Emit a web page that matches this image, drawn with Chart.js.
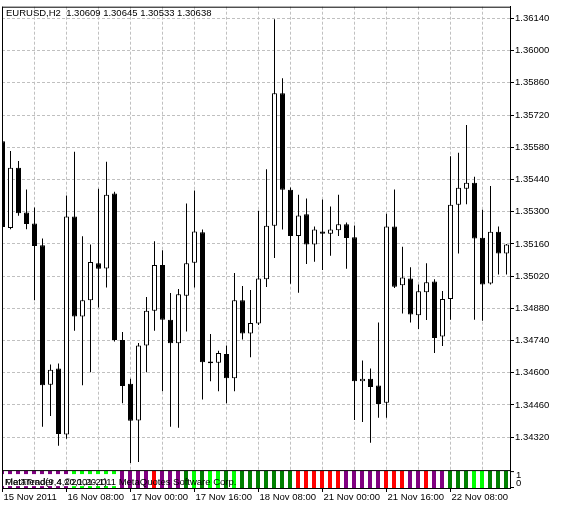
<!DOCTYPE html>
<html>
<head>
<meta charset="utf-8">
<script src="https://cdn.jsdelivr.net/npm/chart.js@4.4.1/dist/chart.umd.min.js"></script>
<style>
  html, body { margin: 0; padding: 0; background: #fff; }
</style>
</head>
<body>
<canvas id="eurusdChart" width="563" height="509"></canvas>
<script>
// EURUSD H2 bars, 15 Nov 2011 16:00 onwards
const timeLabels = ['15 Nov 2011', '16 Nov 08:00', '17 Nov 00:00', '17 Nov 16:00',
                    '18 Nov 08:00', '21 Nov 00:00', '21 Nov 16:00', '22 Nov 08:00'];
const timeTickBars = [0, 8, 16, 24, 32, 40, 48, 56];
const priceTicks = [1.34320, 1.34460, 1.34600, 1.34740, 1.34880, 1.35020, 1.35160,
                    1.35300, 1.35440, 1.35580, 1.35720, 1.35860, 1.36000, 1.36140];

const openPrices = [
  1.35606, 1.35229, 1.35491, 1.35296, 1.35249, 1.35154, 1.34548, 1.34618,
  1.34332, 1.35279, 1.34844, 1.34915, 1.35076, 1.35053, 1.35379, 1.34742,
  1.34552, 1.34392, 1.34718, 1.34869, 1.35068, 1.34830, 1.34728, 1.34935,
  1.35078, 1.35210, 1.34649, 1.34643, 1.34682, 1.34576, 1.34915, 1.34771,
  1.34814, 1.35006, 1.35239, 1.35815, 1.35395, 1.35194, 1.35289, 1.35157,
  1.35214, 1.35204, 1.35219, 1.35245, 1.35189, 1.34563, 1.34574, 1.34545,
  1.34470, 1.35235, 1.34980, 1.35010, 1.34850, 1.34950, 1.34997, 1.34757,
  1.34921, 1.35330, 1.35400, 1.35426, 1.35187, 1.34988, 1.35213, 1.35118
];
const highPrices = [
  1.35610, 1.35564, 1.35520, 1.35396, 1.35318, 1.35183, 1.34636, 1.34640,
  1.35370, 1.35560, 1.35193, 1.35157, 1.35399, 1.35517, 1.35387, 1.34777,
  1.34574, 1.34729, 1.34929, 1.35171, 1.35132, 1.34947, 1.34964, 1.35335,
  1.35392, 1.35222, 1.34768, 1.34696, 1.34718, 1.35033, 1.34977, 1.34960,
  1.35304, 1.35484, 1.36136, 1.35880, 1.35405, 1.35374, 1.35357, 1.35236,
  1.35353, 1.35322, 1.35374, 1.35253, 1.35240, 1.34653, 1.34618, 1.34818,
  1.35291, 1.35396, 1.35148, 1.35058, 1.34984, 1.35076, 1.35006, 1.34955,
  1.35541, 1.35556, 1.35677, 1.35452, 1.35308, 1.35412, 1.35236, 1.35160
];
const lowPrices = [
  1.35220, 1.35224, 1.35282, 1.35224, 1.34915, 1.34365, 1.34412, 1.34283,
  1.34313, 1.34782, 1.34546, 1.34602, 1.34883, 1.34970, 1.34736, 1.34468,
  1.34208, 1.34212, 1.34602, 1.34782, 1.34520, 1.34365, 1.34361, 1.34779,
  1.34970, 1.34484, 1.34563, 1.34520, 1.34468, 1.34520, 1.34744, 1.34667,
  1.34808, 1.34973, 1.35099, 1.35222, 1.34987, 1.34948, 1.35073, 1.35082,
  1.35047, 1.35108, 1.35194, 1.35052, 1.34395, 1.34386, 1.34296, 1.34404,
  1.34404, 1.34968, 1.34857, 1.34818, 1.34790, 1.34829, 1.34686, 1.34716,
  1.34830, 1.35118, 1.35332, 1.34830, 1.34826, 1.34984, 1.35027, 1.35027
];
const closePrices = [
  1.35233, 1.35491, 1.35293, 1.35246, 1.35151, 1.34546, 1.34613, 1.34334,
  1.35279, 1.34844, 1.34915, 1.35081, 1.35052, 1.35373, 1.34742, 1.34542,
  1.34391, 1.34718, 1.34869, 1.35068, 1.34830, 1.34728, 1.34941, 1.35076,
  1.35214, 1.34646, 1.34641, 1.34686, 1.34576, 1.34915, 1.34771, 1.34816,
  1.35010, 1.35239, 1.35815, 1.35395, 1.35194, 1.35283, 1.35157, 1.35223,
  1.35204, 1.35223, 1.35245, 1.35186, 1.34563, 1.34574, 1.34538, 1.34464,
  1.35235, 1.34974, 1.35014, 1.34853, 1.34954, 1.34993, 1.34751, 1.34921,
  1.35330, 1.35404, 1.35426, 1.35183, 1.34984, 1.35213, 1.35118, 1.35157
];
// indicator state per bar: flat / up / rise / down
const trendState = [
  'flat', 'flat', 'flat', 'flat', 'flat', 'flat', 'flat', 'flat',
  'flat', 'up', 'up', 'up', 'up', 'up', 'up', 'flat',
  'flat', 'flat', 'flat', 'down', 'flat', 'flat', 'flat', 'rise',
  'up', 'rise', 'up', 'up', 'rise', 'up', 'rise', 'rise',
  'rise', 'rise', 'rise', 'rise', 'rise', 'down', 'down', 'down',
  'down', 'down', 'down', 'flat', 'flat', 'flat', 'flat', 'flat',
  'down', 'down', 'down', 'flat', 'flat', 'down', 'flat', 'flat',
  'rise', 'rise', 'rise', 'up', 'up', 'rise', 'rise', 'rise'
];

const trendColors = { flat: '#800080', up: '#00ff00', rise: '#008000', down: '#ff0000' };
const FONT_FAMILY = '"Liberation Sans", Arial, sans-serif';
const FONT_SIZE = 9.5;
const barIndex = openPrices.map((_, i) => i);

// frame, vertical grid and the loose texts MT4 puts on the chart
const mtFrame = {
  id: 'mtFrame',
  beforeDatasetsDraw(chart) {
    const { ctx, chartArea: a, scales } = chart;
    const sepY = scales.ySub.getPixelForValue(1) - 0.5;
    ctx.save();
    ctx.strokeStyle = '#c0c0c0';
    ctx.lineWidth = 1;
    ctx.setLineDash([3, 2]);
    for (let k = 4; k < barIndex.length; k += 4) {
      const x = Math.floor(scales.x.getPixelForValue(k)) + 0.5;
      ctx.beginPath();
      ctx.moveTo(x, a.top);
      ctx.lineTo(x, sepY);
      ctx.stroke();
    }
    ctx.restore();
  },
  afterDatasetsDraw(chart) {
    const { ctx, chartArea: a, scales } = chart;
    const sepY = scales.ySub.getPixelForValue(1) - 0.5;
    const subBottom = scales.ySub.getPixelForValue(0);
    ctx.save();
    ctx.strokeStyle = '#000';
    ctx.lineWidth = 1;
    ctx.beginPath();
    ctx.moveTo(a.left + 0.5, a.top);
    ctx.lineTo(a.left + 0.5, a.bottom);
    ctx.moveTo(a.left, a.top + 0.5);
    ctx.lineTo(a.right + 1, a.top + 0.5);
    ctx.moveTo(a.left, sepY);
    ctx.lineTo(a.right + 1, sepY);
    // small scale marks of the indicator window
    ctx.moveTo(a.right, sepY + 1);
    ctx.lineTo(a.right + 4, sepY + 1);
    ctx.moveTo(a.right, subBottom - 0.5);
    ctx.lineTo(a.right + 4, subBottom - 0.5);
    ctx.stroke();

    ctx.font = FONT_SIZE + 'px ' + FONT_FAMILY;
    ctx.fillStyle = '#000';
    ctx.textBaseline = 'alphabetic';
    ctx.fillText('EURUSD,H2  1.30609 1.30645 1.30533 1.30638', 6, 16);

    ctx.fillStyle = '#fff';
    ctx.fillRect(a.left + 1, sepY + 3.5, 115, 12);
    ctx.fillStyle = '#000';
    ctx.fillText('MetaTrader 4 \u00a92001-2011 MetaQuotes Software Corp.', 5, 485);
    ctx.fillText('FlatTrend(9,4,20,1,20,1)', 5, 485);

    ctx.fillText('1', a.right + 6, 477.5);
    ctx.fillText('0', a.right + 6, 485.5);
    ctx.restore();
  }
};

const bodyFill = barIndex.map(i => closePrices[i] >= openPrices[i] ? '#ffffff' : '#000000');

new Chart(document.getElementById('eurusdChart'), {
  type: 'bar',
  data: {
    datasets: [
      {
        label: 'Body',
        data: barIndex.map(i => ({ x: i, y: [openPrices[i], closePrices[i]] })),
        backgroundColor: bodyFill,
        borderColor: '#000000',
        borderWidth: 1,
        borderSkipped: false,
        inflateAmount: 0,
        barThickness: 5,
        grouped: false,
        order: 0,
        xAxisID: 'x',
        yAxisID: 'y'
      },
      {
        label: 'Shadow',
        data: barIndex.map(i => ({ x: i, y: [lowPrices[i], highPrices[i]] })),
        backgroundColor: '#000000',
        borderWidth: 0,
        inflateAmount: 0,
        barThickness: 1,
        grouped: false,
        order: 1,
        xAxisID: 'x',
        yAxisID: 'y'
      },
      {
        label: 'FlatTrend',
        data: barIndex.map(i => ({ x: i, y: [0, 1] })),
        backgroundColor: trendState.map(s => trendColors[s]),
        borderWidth: 0,
        inflateAmount: 0,
        barThickness: 4,
        grouped: false,
        order: 2,
        xAxisID: 'xSub',
        yAxisID: 'ySub'
      }
    ]
  },
  options: {
    responsive: false,
    animation: false,
    events: [],
    layout: { padding: { top: 4, left: 2, right: 0, bottom: 0 } },
    plugins: {
      legend: { display: false },
      tooltip: { enabled: false }
    },
    scales: {
      x: {
        type: 'linear',
        position: 'bottom',
        offset: false,
        min: -0.0625,
        max: 63.4375,
        afterFit: s => { s.height = 21; },
        afterBuildTicks: s => { s.ticks = timeTickBars.map(v => ({ value: v })); },
        grid: {
          offset: false,
          drawOnChartArea: false,
          drawTicks: true,
          tickLength: 4,
          tickColor: '#000000'
        },
        border: { display: true, color: '#000000' },
        ticks: {
          autoSkip: false,
          maxRotation: 0,
          minRotation: 0,
          align: 'start',
          labelOffset: 1,
          padding: 0,
          color: '#000000',
          font: { family: FONT_FAMILY, size: FONT_SIZE },
          callback: (v, i) => timeLabels[i]
        }
      },
      xSub: {
        type: 'linear',
        display: false,
        offset: false,
        min: 0,
        max: 63.5
      },
      y: {
        type: 'linear',
        position: 'right',
        min: 1.340992,
        max: 1.361906,
        afterFit: s => { s.width = 53; },
        afterBuildTicks: s => { s.ticks = priceTicks.map(v => ({ value: v })); },
        grid: {
          color: '#c0c0c0',
          drawTicks: true,
          tickLength: 4,
          tickColor: '#000000'
        },
        border: { display: true, color: '#000000', dash: [3, 2] },
        ticks: {
          padding: 1,
          color: '#000000',
          font: { family: FONT_FAMILY, size: FONT_SIZE },
          callback: v => v.toFixed(5)
        }
      },
      ySub: {
        type: 'linear',
        position: 'right',
        display: false,
        min: 0,
        max: 484 / 17
      }
    }
  },
  plugins: [mtFrame]
});
</script>
</body>
</html>
